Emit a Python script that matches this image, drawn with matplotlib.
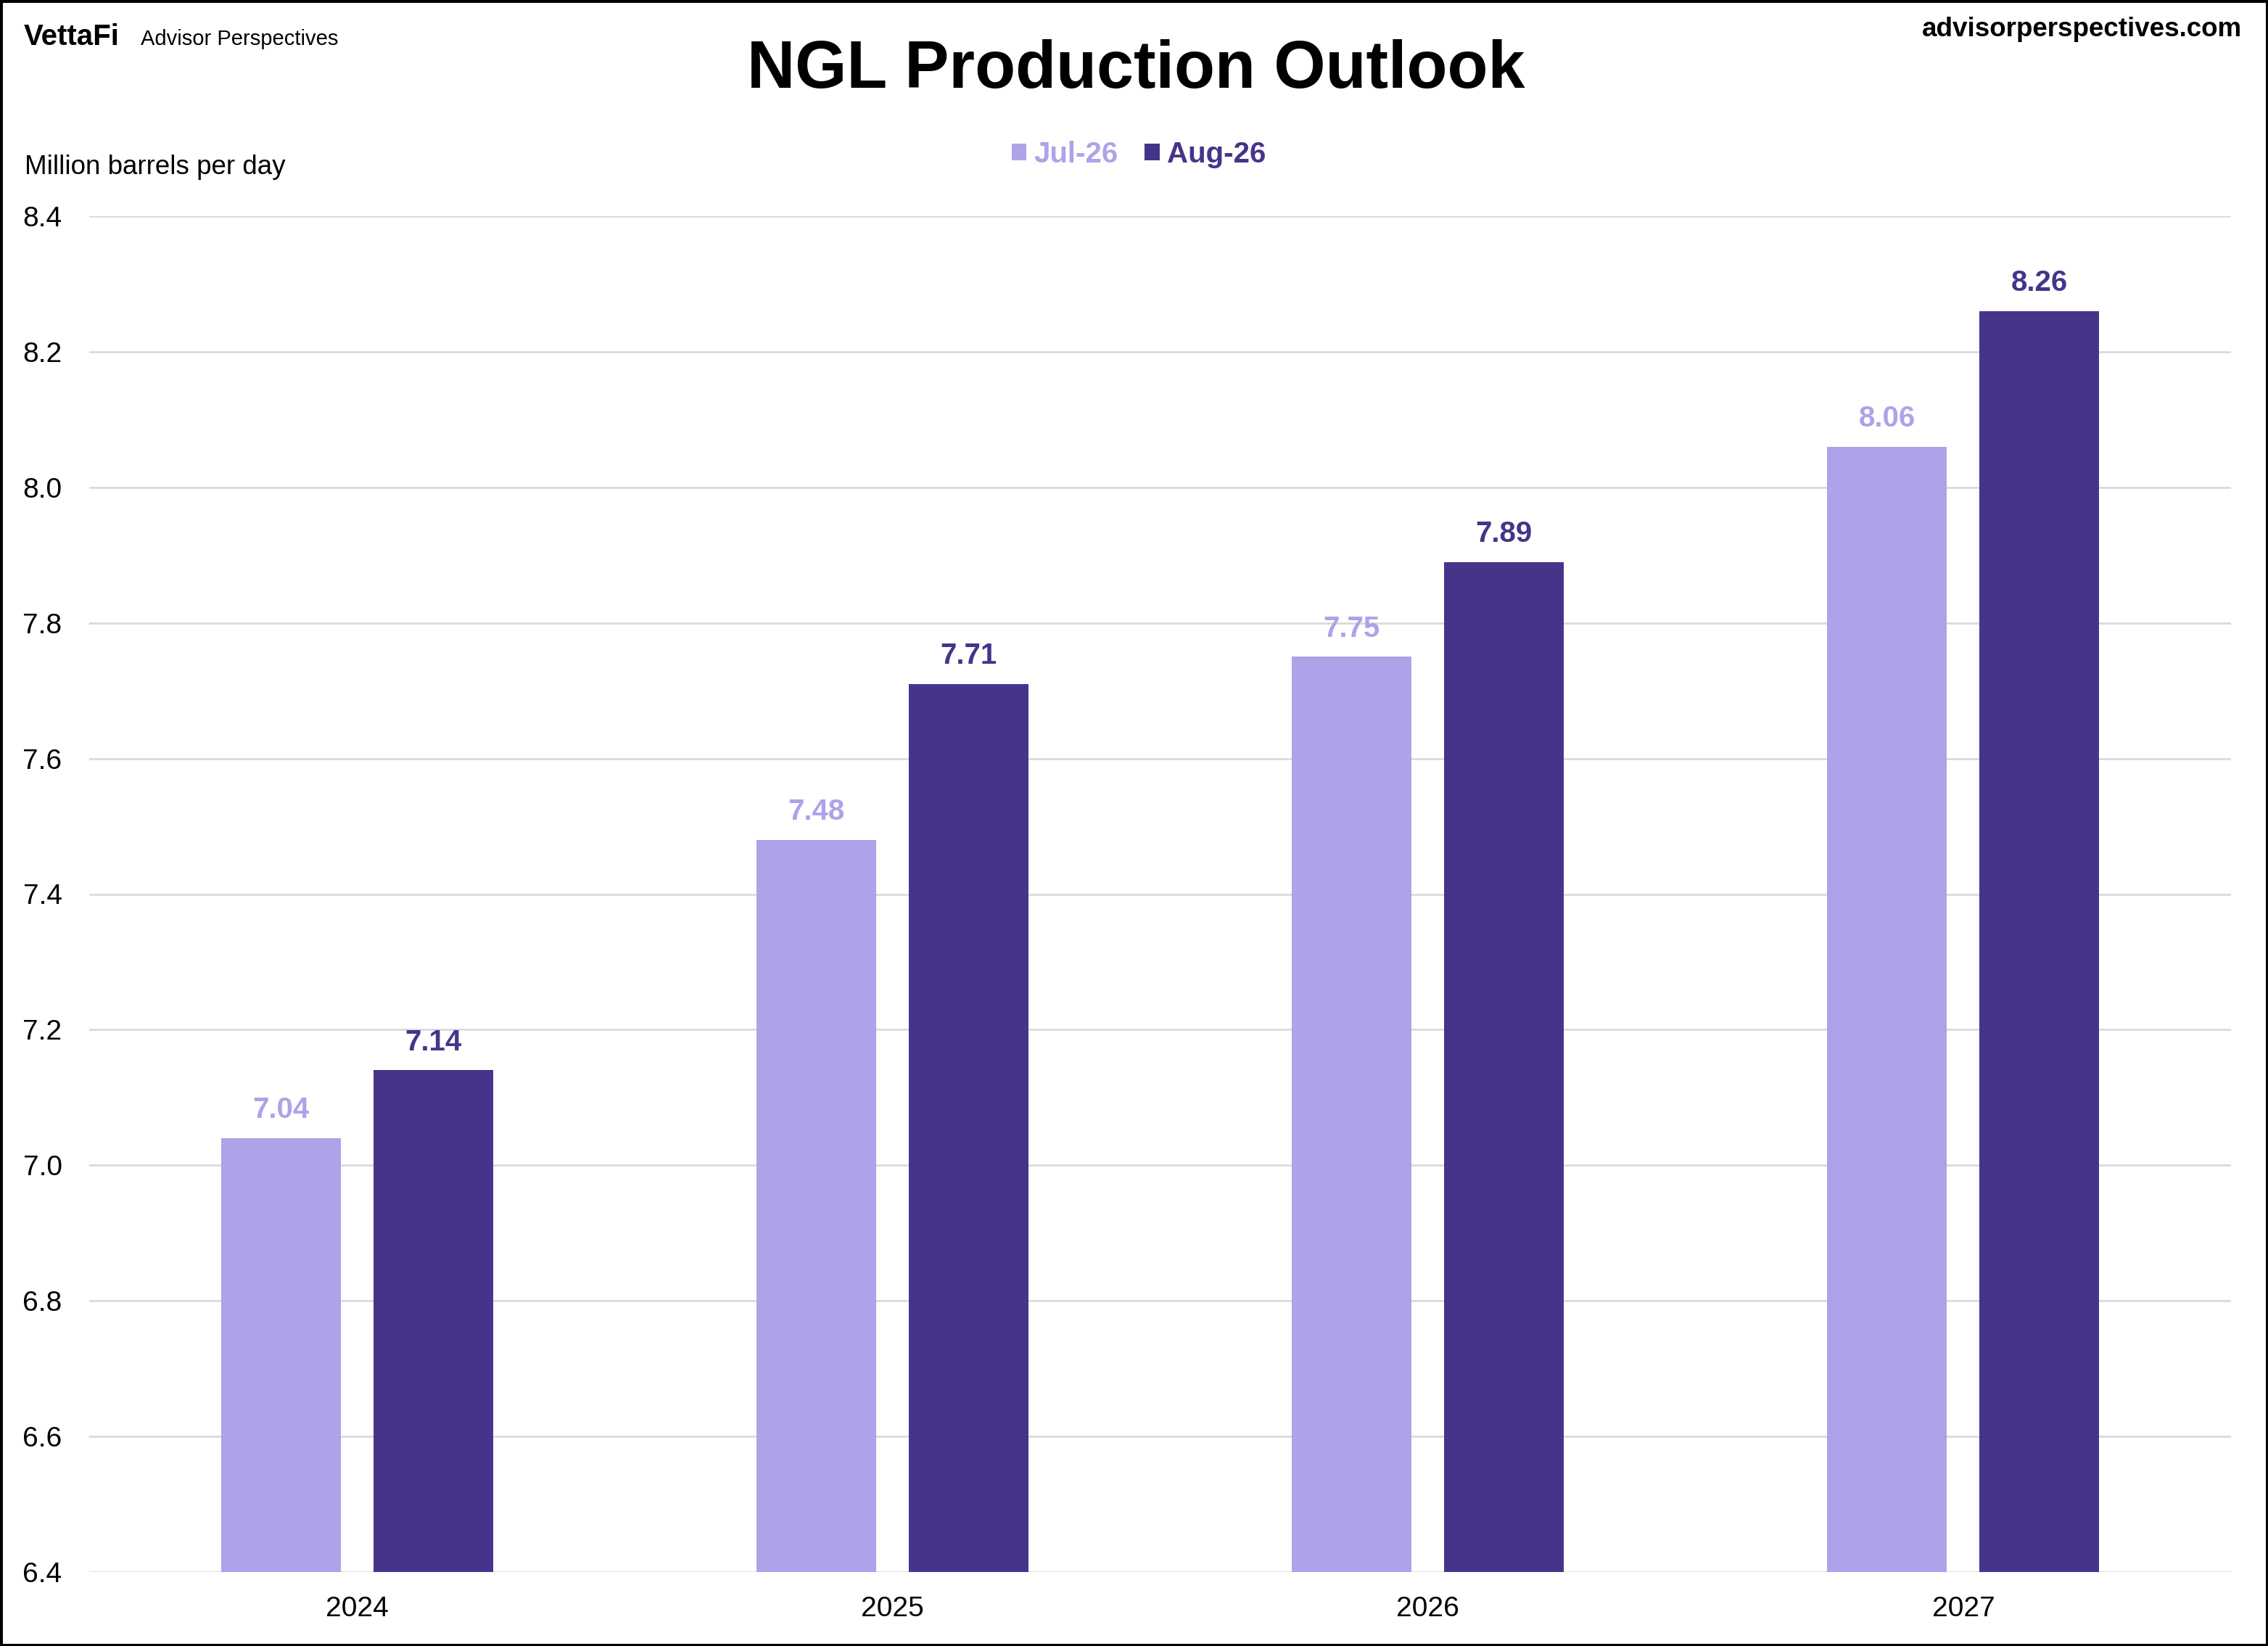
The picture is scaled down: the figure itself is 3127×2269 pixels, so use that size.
import matplotlib
matplotlib.use("Agg")
import matplotlib.pyplot as plt
from matplotlib.patches import Rectangle
import numpy as np

plt.rcParams['font.family'] = ['Liberation Sans', 'DejaVu Sans']

# Data
years = ["2024", "2025", "2026", "2027"]
series_names = ["Jul-26", "Aug-26"]
jul26 = [7.04, 7.48, 7.75, 8.06]
aug26 = [7.14, 7.71, 7.89, 8.26]
yticks = [6.4, 6.6, 6.8, 7.0, 7.2, 7.4, 7.6, 7.8, 8.0, 8.2, 8.4]

light = "#AEA2E8"
dark = "#46348A"

W, H = 3127, 2269
fig = plt.figure(figsize=(W / 100, H / 100), dpi=100)
fig.patch.set_facecolor("white")

left, right, top, bottom = 123, 3076, 298, 2167
ax = fig.add_axes([left / W, 1 - bottom / H, (right - left) / W, (bottom - top) / H])

x = np.arange(len(years))
bw = 0.2236
off = 0.1423
b1 = ax.bar(x - off, jul26, width=bw, color=light, zorder=3, label=series_names[0])
b2 = ax.bar(x + off, aug26, width=bw, color=dark, zorder=3, label=series_names[1])

for bars, vals, col in [(b1, jul26, light), (b2, aug26, dark)]:
    for rect, v in zip(bars, vals):
        ax.annotate(f"{v:.2f}", xy=(rect.get_x() + rect.get_width() / 2, v),
                    xytext=(0, 20), textcoords="offset points",
                    ha="center", va="baseline", fontsize=29, fontweight="bold",
                    color=col, zorder=4)

ax.set_xlim(-0.5, 3.5)
ax.set_ylim(6.4, 8.4)
ax.set_yticks(yticks)
ax.set_yticklabels([f"{t:.1f}" for t in yticks])
ax.set_xticks(x)
ax.set_xticklabels(years)
ax.tick_params(axis="y", length=0, pad=27, labelsize=28)
ax.tick_params(axis="x", length=0, pad=24, labelsize=28)
ax.grid(axis="y", color="#D9D9D9", linewidth=1.9, zorder=0)
ax.set_axisbelow(True)
for s in ax.spines.values():
    s.set_visible(False)

# Legend
leg = fig.legend(handles=[b1, b2], labels=series_names, loc="center",
                 bbox_to_anchor=(1570 / W, 1 - 213 / H), ncol=2, frameon=False,
                 fontsize=29, prop={"weight": "bold", "size": 29},
                 handlelength=0.52, handleheight=0.52, handletextpad=0.25,
                 columnspacing=0.9, labelcolor=[light, dark])

# Title and header texts
fig.text(1566 / W, 1 - 121 / H, "NGL Production Outlook", ha="center", va="baseline",
         fontsize=66, fontweight="bold", color="black")
fig.text(33 / W, 1 - 62 / H, "VettaFi", ha="left", va="baseline",
         fontsize=29, fontweight="bold", color="black")
fig.text(194 / W, 1 - 62 / H, "Advisor Perspectives", ha="left", va="baseline",
         fontsize=21, color="black")
fig.text(3091 / W, 1 - 50 / H, "advisorperspectives.com", ha="right", va="baseline",
         fontsize=26.5, fontweight="bold", color="black")
fig.text(34 / W, 1 - 240 / H, "Million barrels per day", ha="left", va="baseline",
         fontsize=26.5, color="black")

# Border
fig.patches.append(Rectangle((0, 0), 1, 1, transform=fig.transFigure, fill=False,
                             edgecolor="black", linewidth=5, zorder=10))

fig.savefig("out.png", dpi=100, facecolor="white")
